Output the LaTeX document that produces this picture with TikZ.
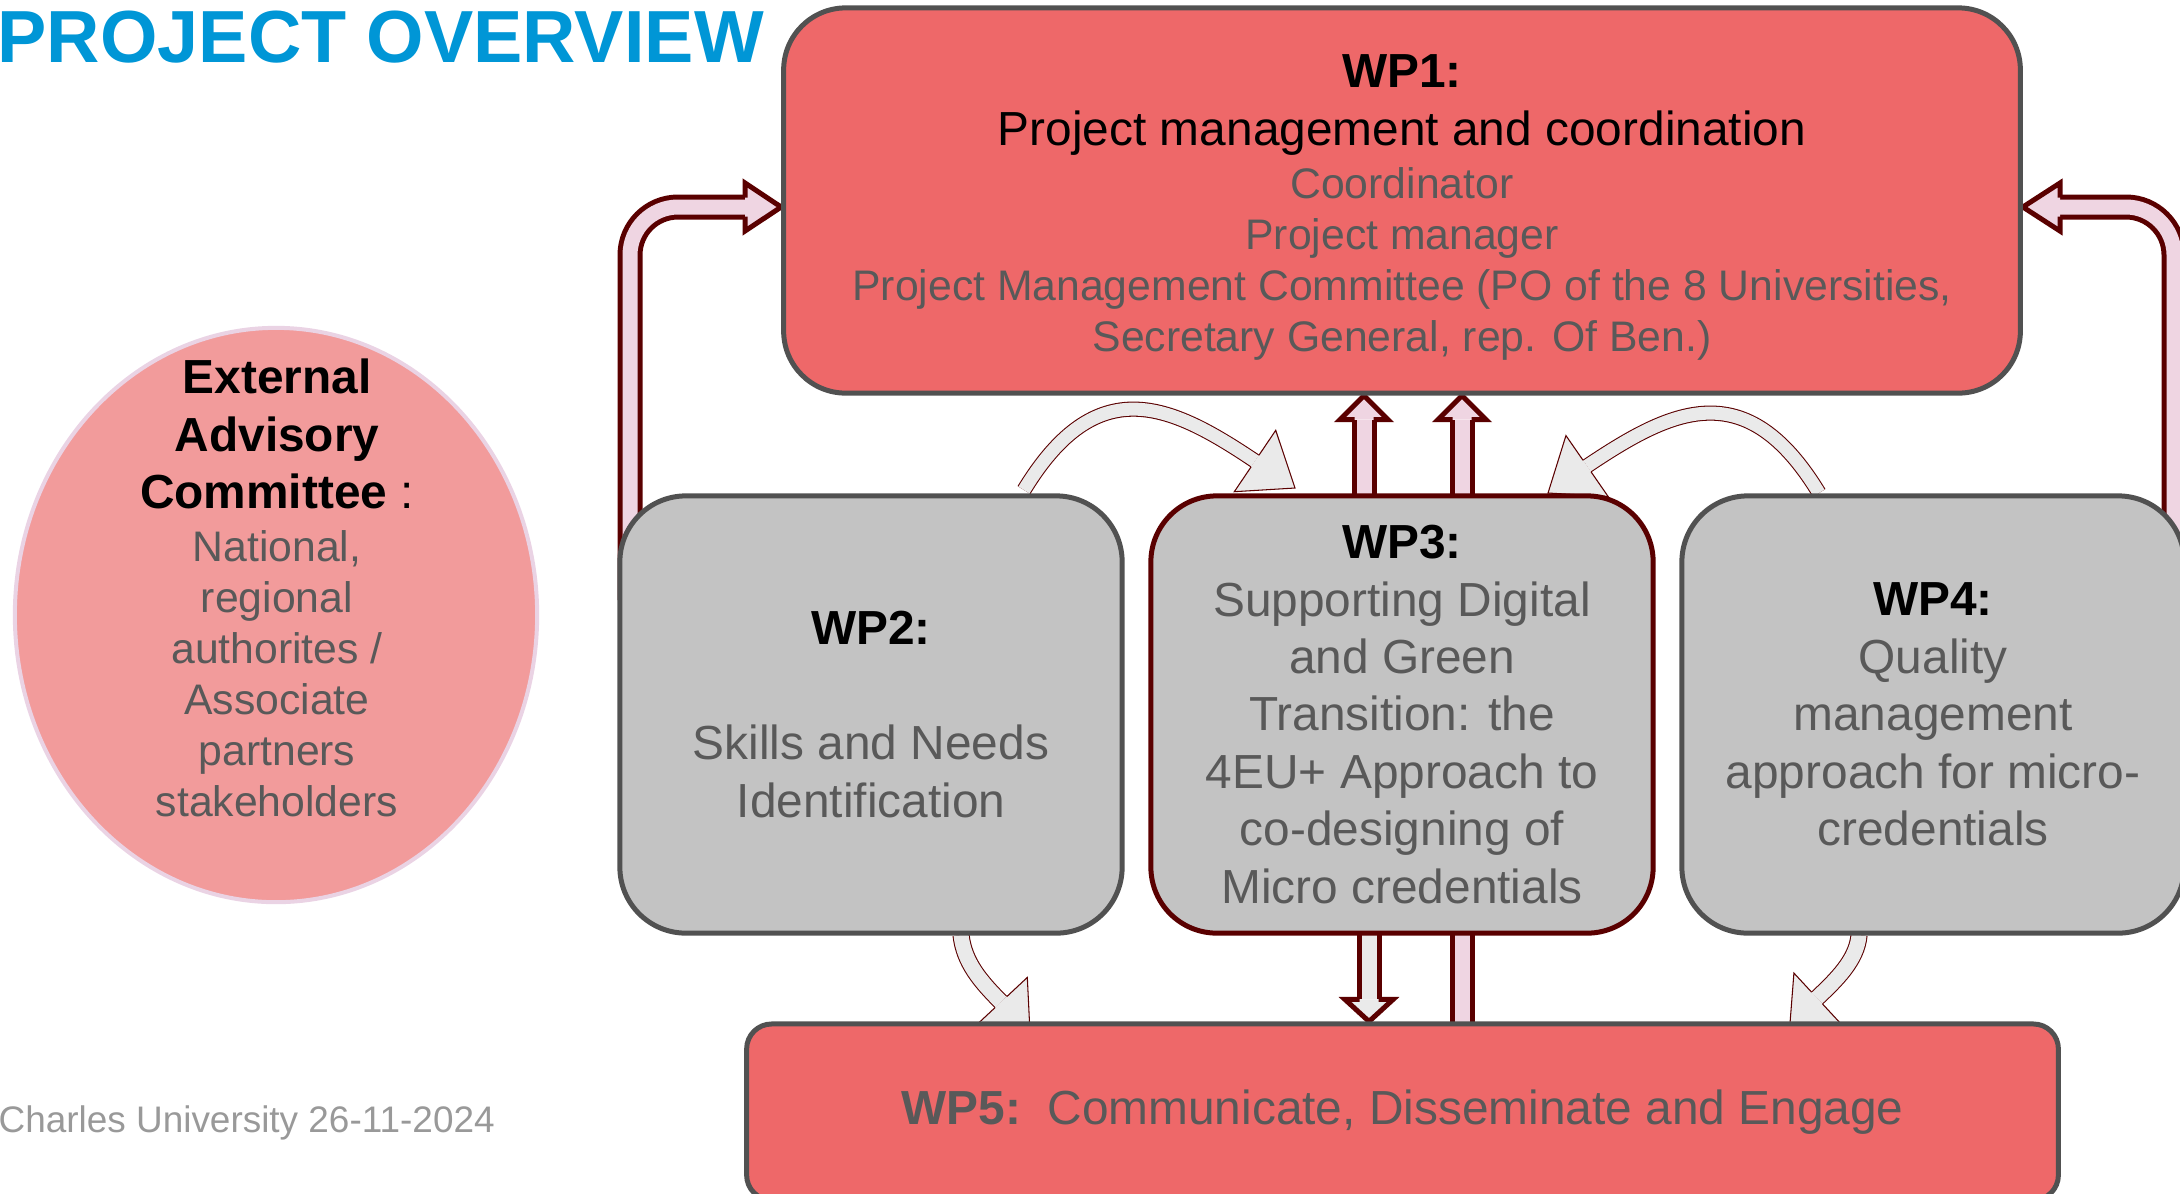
\documentclass[tikz,border=0pt]{standalone}
\usepackage{fontspec}
\setmainfont{Liberation Sans}
\usetikzlibrary{calc,shapes.geometric}
\definecolor{coral}{HTML}{EE6869}
\definecolor{rose}{HTML}{F29B9B}
\definecolor{roseline}{HTML}{EAD3E4}
\definecolor{boxgray}{HTML}{515151}
\definecolor{wpfill}{HTML}{C3C3C3}
\definecolor{wine}{HTML}{5A0000}
\definecolor{pinkfill}{HTML}{EFD5E2}
\definecolor{arrowgray}{HTML}{EAEAEA}
\definecolor{txtgray}{HTML}{595959}
\definecolor{footgray}{HTML}{999999}
\definecolor{titleblue}{HTML}{0096D6}
\newcommand{\mainsize}{\fontsize{13.6pt}{16.33pt}\selectfont}
\newcommand{\minorsize}{\fontsize{12.15pt}{14.5pt}\selectfont}
\newcommand{\minor}[1]{\textcolor{txtgray}{\minorsize #1}}
% head of a block arrow: style, base, tip, shaft half width, head half width
\newcommand{\blockhead}[5]{\filldraw[#1] ($(#2)!#4!90:(#3)$) -- ($(#2)!#5!90:(#3)$) -- (#3) -- ($(#2)!#5!-90:(#3)$) -- ($(#2)!#4!-90:(#3)$);}
\pgfdeclarelayer{background}
\pgfsetlayers{background,main}
\tikzset{wpred/.style={rectangle, rounded corners=0.62cm, draw=boxgray, line width=1.42pt, fill=coral, align=center, inner sep=0pt, font=\mainsize}}
\tikzset{wpgray/.style={rectangle, rounded corners=0.66cm, draw=boxgray, line width=1.42pt, fill=wpfill, align=center, inner sep=0pt, font=\mainsize, text=txtgray, minimum width=5.02cm, minimum height=4.37cm}}
\tikzset{fatshaft/.style={draw=wine, line width=1.42pt, double=#1, double distance=0.15cm}}
\tikzset{fathead/.style={draw=wine, line width=1.42pt, fill=#1}}
\tikzset{thinshaft/.style={draw=wine, line width=0.3pt, double=arrowgray, double distance=0.13cm}}
\tikzset{thinhead/.style={draw=wine, line width=0.3pt, fill=arrowgray}}

\begin{document}
\begin{tikzpicture}[x=0.01cm, y=-0.01cm]
\path[use as bounding box] (0,0) rectangle (2180,1193);
\clip (0,0) rectangle (2180,1193);
\node[anchor=base west, inner sep=0pt, text=titleblue, font=\bfseries\fontsize{21pt}{25pt}\selectfont] (title) at (-3,62) {PROJECT OVERVIEW};
\node[anchor=base west, inner sep=0pt, text=footgray, font=\fontsize{10.5pt}{12.6pt}\selectfont] (date) at (-2,1132) {Charles University 26-11-2024};

\node[ellipse, draw=roseline, line width=1.14pt, fill=rose, minimum width=5.22cm, minimum height=5.74cm, inner sep=0pt] (eac) at (276,615) {};
\node[align=center, inner sep=0pt, font=\mainsize] (eactext) at (277,588) {\textbf{External}\\ \textbf{Advisory}\\ \textbf{Committee} :\\[-1.25pt]
  \minor{National,}\\[-1.83pt] \minor{regional}\\[-1.83pt] \minor{authorites /}\\[-1.83pt] \minor{Associate}\\[-1.83pt] \minor{partners}\\[-1.83pt] \minor{stakeholders}};

\node[wpred, minimum width=12.36cm, minimum height=3.85cm] (wp1) at (1402,200.5) {};
\node[align=center, inner sep=0pt, font=\mainsize] (wp1text) at ($(wp1.center)+(0,7)$) {\textbf{WP1:}\\ Project management and coordination\\[-1.25pt]
  \minor{Coordinator}\\[-1.83pt] \minor{Project manager}\\[-1.83pt]
  \minor{Project Management Committee (PO of the 8 Universities,}\\[-1.83pt] \minor{Secretary General, rep. Of Ben.)}};
\node[wpgray] (wp2) at (871,714.5) {\textcolor{black}{\textbf{WP2:}}\\ \\ Skills and Needs\\ Identification};
\node[wpgray, draw=wine] (wp3) at (1402,714.5) {\textcolor{black}{\textbf{WP3:}}\\ Supporting Digital\\ and Green\\ Transition: the\\ 4EU+ Approach to\\ co-designing of\\ Micro credentials};
\node[wpgray] (wp4) at (1933,714.5) {\textcolor{black}{\textbf{WP4:}}\\ Quality\\ management\\ approach for micro-\\ credentials};
\node[wpred, rounded corners=0.25cm, text=txtgray, minimum width=13.11cm, minimum height=1.76cm] (wp5) at (1402.5,1112) {\textbf{WP5:}\ \ Communicate, Disseminate and Engage};

\begin{pgfonlayer}{background}
\clip (0,0) rectangle (2180,1193);
% elbow arrows up to WP1
\coordinate (lfoot) at (630,600);
\coordinate (lbase) at (745,207);
\coordinate (ltip) at (wp1.west |- lbase);
\coordinate (rfoot) at (2174,600);
\coordinate (rbase) at (2060,207);
\coordinate (rtip) at (wp1.east |- rbase);
\draw[fatshaft=pinkfill, rounded corners=0.48cm] (lfoot) |- (lbase);
\blockhead{fathead=pinkfill}{lbase}{ltip}{0.095cm}{0.24cm}
\draw[fatshaft=pinkfill, rounded corners=0.48cm] (rfoot) |- (rbase);
\blockhead{fathead=pinkfill}{rbase}{rtip}{0.095cm}{0.24cm}
% WP3 to WP1 and WP5
\coordinate (ua) at (1364,0);
\coordinate (ub) at (1462,0);
\coordinate (da) at (1369,0);
\coordinate (uatip) at (ua |- wp1.south);
\coordinate (uabase) at ($(uatip)+(0,24)$);
\coordinate (ubtip) at (ub |- wp1.south);
\coordinate (ubbase) at ($(ubtip)+(0,24)$);
\coordinate (datip) at (da |- wp5.north);
\coordinate (dabase) at ($(datip)+(0,-22)$);
\draw[fatshaft=pinkfill] (ua |- wp3.center) -- (uabase);
\blockhead{fathead=pinkfill}{uabase}{uatip}{0.095cm}{0.24cm}
\draw[fatshaft=pinkfill] (ub |- wp3.center) -- (ubbase);
\blockhead{fathead=pinkfill}{ubbase}{ubtip}{0.095cm}{0.24cm}
\draw[fatshaft=arrowgray] (da |- wp3.center) -- (dabase);
\blockhead{fathead=arrowgray}{dabase}{datip}{0.095cm}{0.24cm}
\draw[fatshaft=pinkfill] (ub |- wp5.center) -- (ub |- wp3.center);
% curved arrows
\coordinate (c1s) at (1024,490);
\coordinate (c1b) at (1255,461);
\coordinate (c1t) at (1295,488);
\coordinate (c2s) at (1819,493);
\coordinate (c2b) at (1587,466);
\coordinate (c2t) at (1548,493);
\coordinate (c3s) at (961,935);
\coordinate (c3b) at (1001,1002);
\coordinate (c3t) at (1030,1033);
\coordinate (c4s) at (1859,935);
\coordinate (c4b) at (1817,998);
\coordinate (c4t) at (1790,1023);
\draw[thinshaft] (c1s) .. controls (1097,370) and (1170,404) .. (c1b);
\blockhead{thinhead}{c1b}{c1t}{0.07cm}{0.37cm}
\draw[thinshaft] (c2s) .. controls (1746,373) and (1672,409) .. (c2b);
\blockhead{thinhead}{c2b}{c2t}{0.07cm}{0.37cm}
\draw[thinshaft, double distance=0.15cm] (c3s) .. controls (964,962) and (980,981) .. (c3b);
\blockhead{thinhead}{c3b}{c3t}{0.08cm}{0.36cm}
\draw[thinshaft, double distance=0.15cm] (c4s) .. controls (1857,960) and (1836,980) .. (c4b);
\blockhead{thinhead}{c4b}{c4t}{0.08cm}{0.34cm}
\end{pgfonlayer}
\end{tikzpicture}
\end{document}
